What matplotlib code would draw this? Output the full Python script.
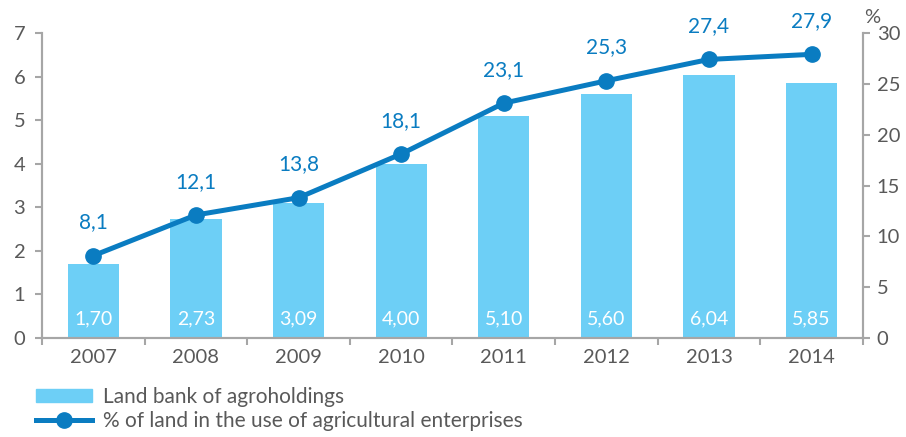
import numpy as np
import matplotlib.pyplot as plt
from matplotlib.lines import Line2D
from matplotlib.patches import Patch

plt.rcParams['font.family'] = ['Lato', 'DejaVu Sans']

years = ['2007', '2008', '2009', '2010', '2011', '2012', '2013', '2014']
land_bank = [1.70, 2.73, 3.09, 4.00, 5.10, 5.60, 6.04, 5.85]
land_share = [8.1, 12.1, 13.8, 18.1, 23.1, 25.3, 27.4, 27.9]

bar_color = '#6DCFF6'
line_color = '#0A7CC1'
text_color = '#595959'
spine_color = '#A6A6A6'

fig = plt.figure(figsize=(9.06, 4.37), dpi=100)
ax = fig.add_axes([0.0464, 0.2265, 0.906, 0.698])
ax2 = ax.twinx()

x = np.arange(len(years))
ax.bar(x, land_bank, width=0.5, color=bar_color, zorder=1)
for xi, v in zip(x, land_bank):
    ax.annotate(f'{v:.2f}'.replace('.', ','), (xi, 0), xytext=(0, 14),
                textcoords='offset points', ha='center', va='center',
                color='white', fontsize=14)

ax2.plot(x, land_share, color=line_color, lw=3.6, marker='o', markersize=11, zorder=3)
for xi, v in zip(x, land_share):
    ax2.annotate(f'{v:.1f}'.replace('.', ','), (xi, v), xytext=(0, 24),
                 textcoords='offset points', ha='center', va='center',
                 color=line_color, fontsize=15)

ax.set_xlim(-0.5, len(years) - 0.5)
ax.set_ylim(0, 7)
ax2.set_ylim(0, 30)
ax.set_yticks(range(0, 8))
ax2.set_yticks(range(0, 31, 5))
ax.set_xticks(x)
ax.set_xticklabels(years)
ax.set_xticks(np.arange(-0.5, len(years), 1), minor=True)
ax.tick_params(axis='x', which='major', length=0, pad=8)
ax.tick_params(axis='x', which='minor', length=5, color=spine_color, width=1.5)

for a in (ax, ax2):
    a.spines['top'].set_visible(False)
    for s in ('left', 'right', 'bottom'):
        a.spines[s].set_color(spine_color)
        a.spines[s].set_linewidth(1.5)
    a.tick_params(axis='y', colors=text_color, labelsize=14.5, length=5, width=1.5)
    a.tick_params(axis='y', color=spine_color)
ax.tick_params(axis='x', labelcolor=text_color, labelsize=14.5)
ax.tick_params(axis='y', pad=7)
ax2.tick_params(axis='y', pad=5)

fig.text(0.954, 0.96, '%', color=text_color, fontsize=14.5, ha='left', va='center')

handles = [Patch(color=bar_color),
           Line2D([0], [0], color=line_color, lw=3.6, marker='o', markersize=11)]
labels = ['Land bank of agroholdings', '% of land in the use of agricultural enterprises']
fig.legend(handles, labels, loc='upper left', bbox_to_anchor=(0.04, 0.115),
           frameon=False, fontsize=15, labelcolor=text_color, handlelength=2.7,
           handleheight=0.6, handletextpad=0.5, labelspacing=0.2,
           borderaxespad=0, borderpad=0)

fig.savefig('out.png', dpi=100)
